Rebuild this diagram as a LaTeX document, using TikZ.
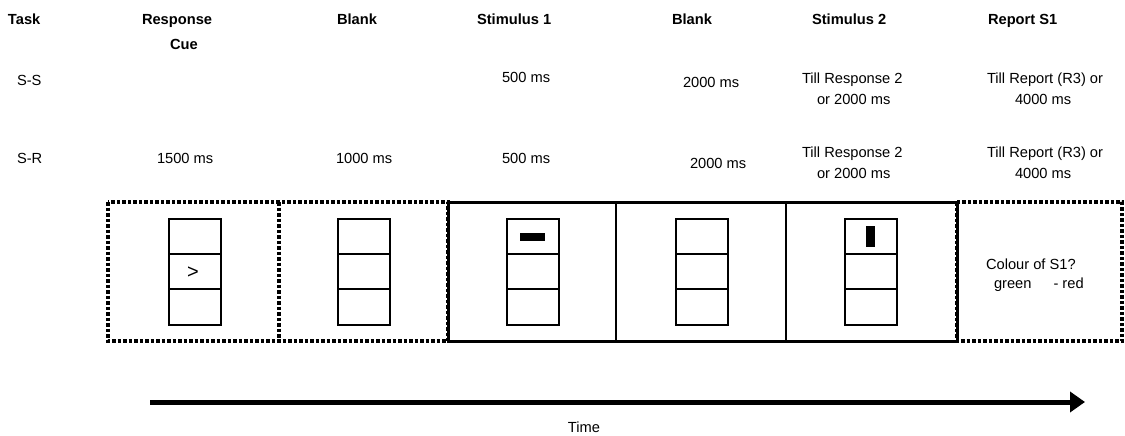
\documentclass[tikz,border=0pt]{standalone}
\usepackage{fontspec}
\setmainfont{Liberation Sans}
\usetikzlibrary{arrows.meta}
\begin{document}
\begin{tikzpicture}[x=1pt,y=-1pt,
  every node/.style={inner sep=0pt, outer sep=0pt, font=\fontsize{14.67}{17}\selectfont},
  head/.style={font=\fontsize{14.67}{17}\selectfont\bfseries, anchor=base west},
  lbl/.style={anchor=base west},
  dotframe/.style={line width=3.2pt, dash pattern=on 3.5pt off 2pt},
  solidframe/.style={line width=3pt},
  divider/.style={line width=2pt},
  cell/.style={line width=2pt},
  timeline/.style={line width=5pt, -{Triangle[length=15pt,width=20pt]}}
]
\useasboundingbox (0,0) rectangle (1125,436);

% column headings
\node[head] (hTask) at (8,25) {Task};
\node[head] (hCue1) at (142,25) {Response};
\node[head] (hCue2) at (170,49.5) {Cue};
\node[head] (hBlank1) at (337,25) {Blank};
\node[head] (hStim1) at (477,25) {Stimulus 1};
\node[head] (hBlank2) at (672,25) {Blank};
\node[head] (hStim2) at (812,25) {Stimulus 2};
\node[head] (hReport) at (988,25) {Report S1};

% S-S timings
\node[lbl] (ss) at (17,85) {S-S};
\node[lbl] (ssS1) at (502,83) {500 ms};
\node[lbl] (ssB2) at (683,88) {2000 ms};
\node[lbl] (ssS2a) at (802,84) {Till Response 2};
\node[lbl] (ssS2b) at (817,104) {or 2000 ms};
\node[lbl] (ssRa) at (987,84) {Till Report (R3) or};
\node[lbl] (ssRb) at (1015,104) {4000 ms};

% S-R timings
\node[lbl] (sr) at (17,163) {S-R};
\node[lbl] (srCue) at (157,163) {1500 ms};
\node[lbl] (srB1) at (336,163) {1000 ms};
\node[lbl] (srS1) at (502,163) {500 ms};
\node[lbl] (srB2) at (690,168) {2000 ms};
\node[lbl] (srS2a) at (802,157.5) {Till Response 2};
\node[lbl] (srS2b) at (817,178) {or 2000 ms};
\node[lbl] (srRa) at (987,157.5) {Till Report (R3) or};
\node[lbl] (srRb) at (1015,178) {4000 ms};

% screen frames
\draw[dotframe] (108,202) rectangle (448,341);
\draw[dotframe] (279,202) -- (279,341);
\draw[dotframe] (957,202) rectangle (1122,341);
\draw[solidframe] (448,202) rectangle (957,341);
\draw[divider] (616,202) -- (616,341);
\draw[divider] (786,202) -- (786,341);

% three-cell displays
\foreach \cx in {195,363.5,532.5,701.5,870.5} {
  \draw[cell] (\cx-26,219) rectangle (\cx+26,325);
  \draw[cell] (\cx-26,254) -- (\cx+26,254);
  \draw[cell] (\cx-26,289) -- (\cx+26,289);
}

% display contents
\node (cue) at (193,273) {\fontsize{20}{20}\selectfont >};
\fill (520,233) rectangle (545,241);
\fill (866,226) rectangle (875,247);
\node[lbl] (q1) at (986,269) {Colour of S1?};
\node[lbl] (q2) at (994,288) {green\hspace{22pt}- red};

% time axis
\coordinate (tstart) at (150,402);
\coordinate (tend) at (1085,402);
\draw[timeline] (tstart) -- (tend);
\node (time) at (584,427) {Time};
\end{tikzpicture}
\end{document}
